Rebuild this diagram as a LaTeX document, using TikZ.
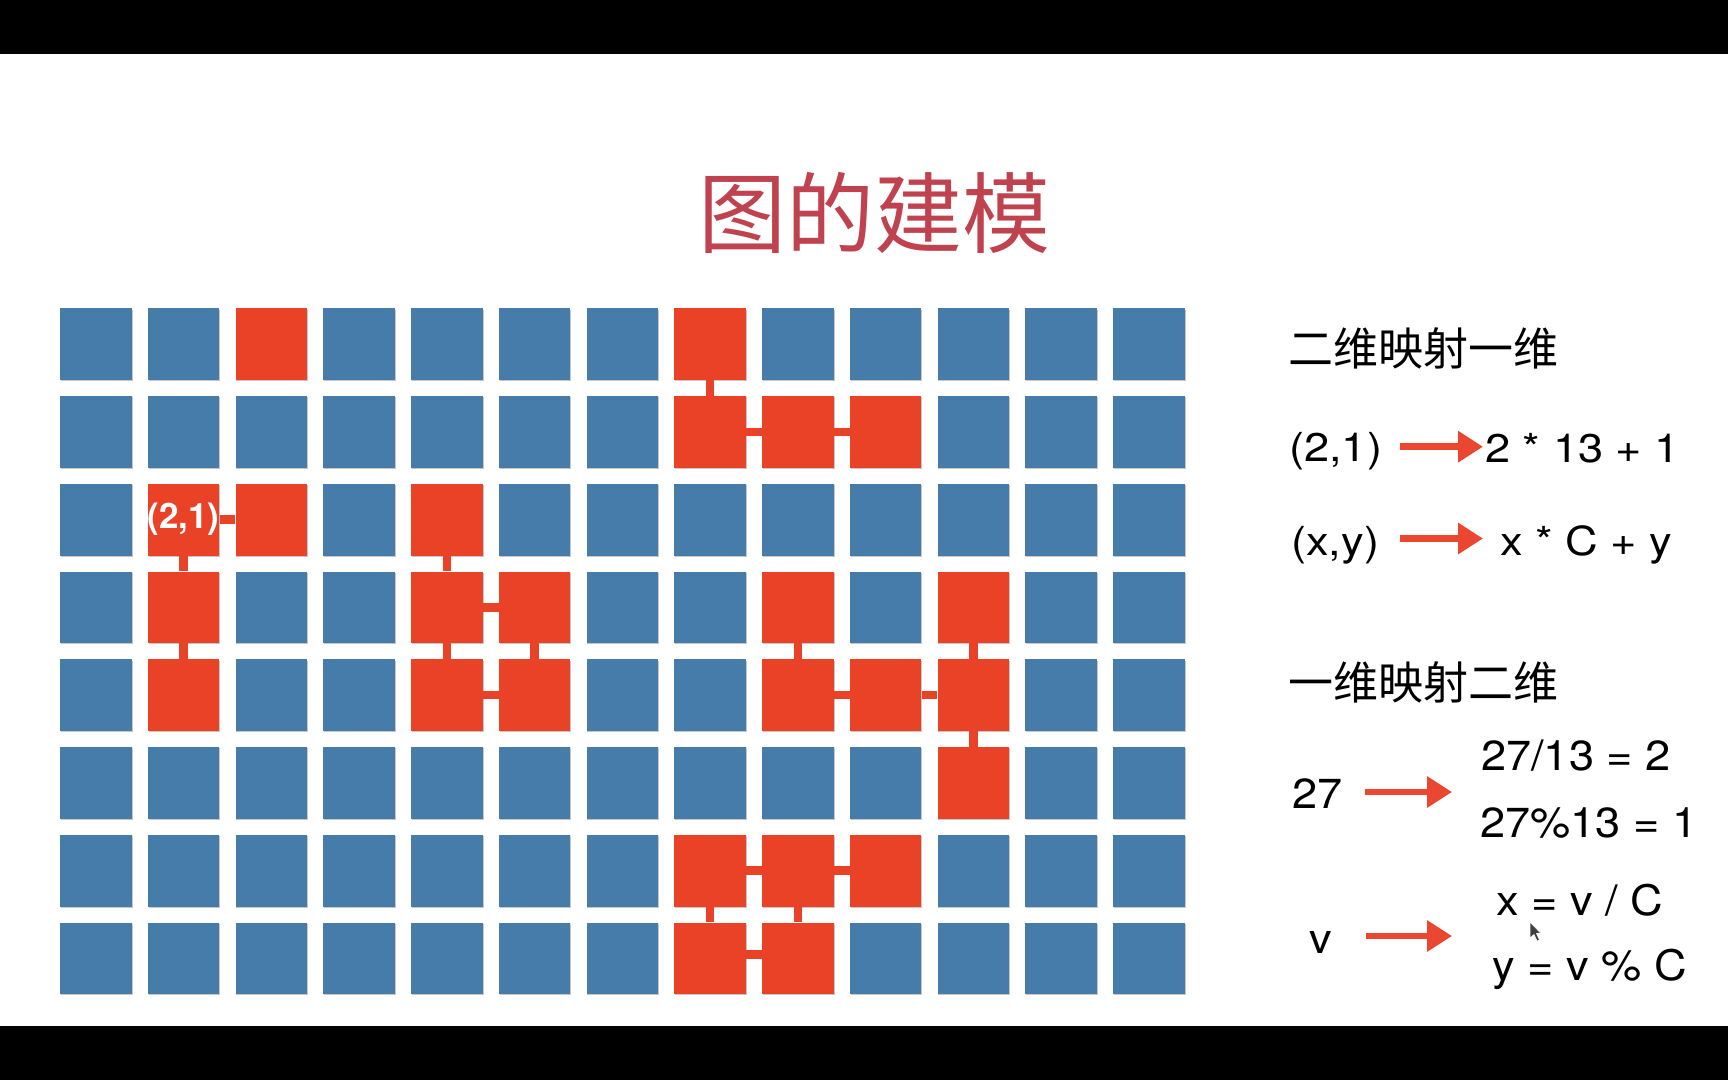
\documentclass[tikz,border=0pt]{standalone}
\usepackage{graphicx}
\usepackage{fontspec}
\setmainfont{TeX Gyre Heros}
\newfontfamily\cjk{Noto Sans CJK SC}
\usetikzlibrary{arrows.meta,shadows}
\definecolor{cellblue}{RGB}{70,124,170}
\definecolor{cellred}{RGB}{234,66,38}
\definecolor{titlered}{RGB}{192,66,78}
\definecolor{arrowred}{RGB}{234,70,48}
\makeatletter
\def\redlist{,0-2,0-7,1-7,1-8,1-9,2-1,2-2,2-4,3-1,3-4,3-5,3-8,3-10,4-1,4-4,4-5,4-8,4-9,4-10,5-10,6-7,6-8,6-9,7-7,7-8,}
\newcommand\setcellcol[2]{\edef\mytmp{\noexpand\in@{,#1-#2,}{\redlist}}\mytmp
  \ifin@\def\cellcol{cellred}\else\def\cellcol{cellblue}\fi}
\makeatother
\newcommand\wideA[1]{\scalebox{1.13}[1]{#1}}
\newcommand\wideB[1]{\scalebox{1.075}[1]{#1}}
\begin{document}
\begin{tikzpicture}[x=1pt,y=-1pt,
  cell/.style={rectangle,minimum size=71.7pt,inner sep=0pt,draw=none,
    drop shadow={shadow xshift=0.8pt,shadow yshift=-1.2pt,opacity=0.22,fill=black}},
  link/.style={draw=cellred,line width=8.5pt},
  lat/.style={anchor=base west,inner sep=0pt,font=\fontsize{40}{48}\selectfont},
  latb/.style={anchor=base west,inner sep=0pt,font=\fontsize{42}{50}\selectfont},
  cjkline/.style={anchor=base west,inner sep=0pt,font=\cjk\fontsize{45}{54}\selectfont},
  titletext/.style={inner sep=0pt,text=titlered,font=\cjk\fontsize{88}{100}\selectfont},
  handarrow/.style={draw=arrowred,line width=6.5pt,-{Triangle[length=25pt,width=30pt]}}]
\useasboundingbox (0,0) rectangle (1728,1080);
\fill[white] (0,0) rectangle (1728,1080);
\fill[black] (0,0) rectangle (1728,54);
\fill[black] (0,1026) rectangle (1728,1080);

\node[titletext] (title) at (874,213) {图的建模};

\foreach \r in {0,...,7}{
  \foreach \c in {0,...,12}{
    \setcellcol{\r}{\c}
    \node[cell,fill=\cellcol] (n\r-\c) at ({95.85+87.75*\c},{344.15+87.75*\r}) {};
  }}

\draw[link] (n0-7.south) -- (n1-7.north);
\draw[link] (n1-7.east) -- (n1-8.west);
\draw[link] (n1-8.east) -- (n1-9.west);
\draw[link] (n2-1.east) -- (n2-2.west);
\draw[link] (n2-1.south) -- (n3-1.north);
\draw[link] (n3-1.south) -- (n4-1.north);
\draw[link] (n2-4.south) -- (n3-4.north);
\draw[link] (n3-4.east) -- (n3-5.west);
\draw[link] (n3-4.south) -- (n4-4.north);
\draw[link] (n3-5.south) -- (n4-5.north);
\draw[link] (n4-4.east) -- (n4-5.west);
\draw[link] (n3-8.south) -- (n4-8.north);
\draw[link] (n4-8.east) -- (n4-9.west);
\draw[link] (n4-9.east) -- (n4-10.west);
\draw[link] (n3-10.south) -- (n4-10.north);
\draw[link] (n4-10.south) -- (n5-10.north);
\draw[link] (n6-7.east) -- (n6-8.west);
\draw[link] (n6-8.east) -- (n6-9.west);
\draw[link] (n6-7.south) -- (n7-7.north);
\draw[link] (n6-8.south) -- (n7-8.north);
\draw[link] ([yshift=4pt]n7-7.east) -- ([yshift=4pt]n7-8.west);

\node[inner sep=0pt,text=white,font=\bfseries\fontsize{35}{38}\selectfont] (lbl) at (n2-1.center) {(2,1)};

\node[cjkline] (h1) at (1288,365) {二维映射一维};
\node[lat] (t1) at (1289,461.7) {\wideA{(2,1)}};
\node[lat] (t2) at (1485,462.7) {\wideA{2 * 13 + 1}};
\node[lat] (t3) at (1291,555) {\wideA{(x,y)}};
\node[lat] (t4) at (1500,555) {\wideA{x * C + y}};
\node[cjkline] (h2) at (1288,699) {一维映射二维};
\node[latb] (t5) at (1292,808) {\wideB{27}};
\node[latb] (t6) at (1481,770) {\wideB{27/13 = 2}};
\node[latb] (t7) at (1480,837) {\wideB{27\%13 = 1}};
\node[latb] (t8) at (1496,915) {\wideB{x = v / C}};
\node[latb] (t9) at (1492,980) {\wideB{y = v \% C}};
\node[latb] (t10) at (1309,953) {\wideB{v}};

\coordinate (a1s) at (1400,446.7); \coordinate (a1e) at (1483,446.7);
\coordinate (a2s) at (1400,538.5); \coordinate (a2e) at (1483,538.5);
\coordinate (a3s) at (1365,792);   \coordinate (a3e) at (1452,792);
\coordinate (a4s) at (1366,936);   \coordinate (a4e) at (1452,936);
\draw[handarrow] (a1s) -- (a1e);
\draw[handarrow] (a2s) -- (a2e);
\draw[handarrow] (a3s) -- (a3e);
\draw[handarrow] (a4s) -- (a4e);

% mouse cursor
\fill[black!75,draw=white,line width=0.6pt] (1530,922) -- (1530,938) -- (1534,934.5) -- (1537,941) -- (1539.5,940) -- (1536.5,933.5) -- (1541,933.5) -- cycle;
\end{tikzpicture}
\end{document}
